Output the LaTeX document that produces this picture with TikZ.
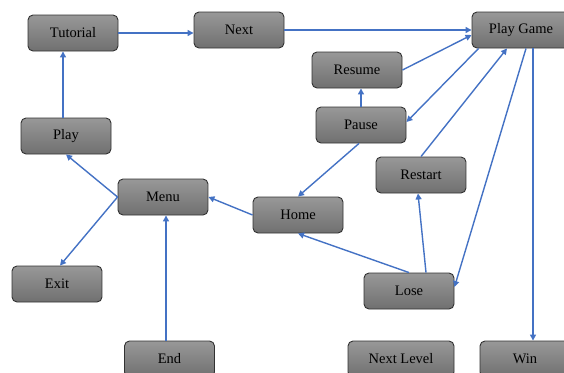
\documentclass[tikz,border=0pt]{standalone}
\usepackage{fontspec}
\setmainfont{Liberation Serif}
\usetikzlibrary{arrows.meta}
\definecolor{boxtop}{RGB}{152,152,152}
\definecolor{boxbot}{RGB}{112,112,112}
\definecolor{boxline}{RGB}{50,50,50}
\definecolor{flow}{RGB}{68,114,196}
\tikzset{
	state/.style={draw=boxline, line width=0.9pt, rounded corners=5pt,
		top color=boxtop, bottom color=boxbot, minimum width=90pt,
		minimum height=36pt, inner sep=0pt, font=\fontsize{14.5}{16}\selectfont},
	link/.style={draw=flow, line width=1.4pt, -{Triangle[length=6pt,width=6pt]}}
}
\begin{document}
\begin{tikzpicture}[x=1pt,y=1pt]
	\useasboundingbox (0,0) rectangle (564,-372);
	\node[state] (tutorial) at (73,-33) {Tutorial};
	\node[state] (next) at (239,-30) {Next};
	\node[state, minimum width=98pt] (game) at (521,-30) {Play Game};
	\node[state] (resume) at (357,-70) {Resume};
	\node[state] (pause) at (361,-125) {Pause};
	\node[state] (restart) at (421,-175) {Restart};
	\node[state] (play) at (66,-136) {Play};
	\node[state] (menu) at (163,-197) {Menu};
	\node[state] (home) at (298,-215) {Home};
	\node[state] (exit) at (57,-284) {Exit};
	\node[state] (lose) at (409,-291) {Lose};
	\node[state] (end) at (169.5,-359) {End};
	\node[state, minimum width=106pt] (nextlevel) at (401,-359) {Next Level};
	\node[state] (win) at (525,-359) {Win};

	\draw[link] (tutorial.east) -- (tutorial.east -| next.west);
	\draw[link] (next.east) -- (game.west);
	\draw[link] (resume.east) -- ([yshift=-5pt]game.west);
	\draw[link] ([xshift=7pt]game.south west) -- ([yshift=3pt]pause.east);
	\draw[link] (restart.north) -- ([xshift=-14pt]game.south);
	\draw[link] ([xshift=5pt]game.south) -- ([yshift=4pt]lose.east);
	\draw[link] ([xshift=12pt]game.south) -- ([xshift=12pt]game.south |- win.north);
	\draw[link] (pause.north) -- (pause.north |- resume.south);
	\draw[link] ([xshift=-2pt]pause.south) -- (home.north);
	\draw[link] ([xshift=17pt]lose.north) -- ([xshift=-3pt]restart.south);
	\draw[link] (lose.north) -- (home.south);
	\draw[link] (home.west) -- (menu.east);
	\draw[link] (menu.west) -- (play.south);
	\draw[link] (menu.west) -- ([xshift=3pt]exit.north);
	\draw[link] ([xshift=-3.5pt]end.north) -- ([xshift=3pt]menu.south);
	\draw[link] ([xshift=-3pt]play.north) -- ([xshift=-10pt]tutorial.south);
\end{tikzpicture}
\end{document}
